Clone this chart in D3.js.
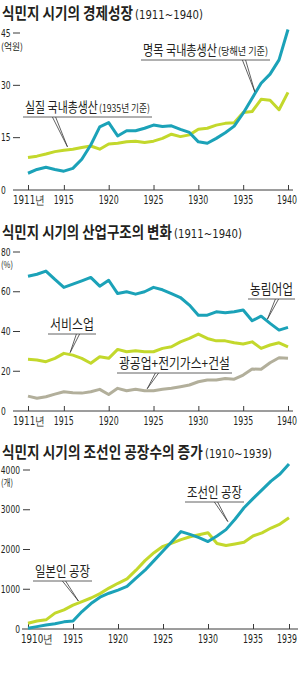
<!DOCTYPE html>
<html>
<head>
<meta charset="utf-8">
<script src="https://cdn.jsdelivr.net/npm/d3@7"></script>
<style>
  body { margin: 0; background: #fff; }
  text { fill: #231f20; }
  .ko { font-family: "Noto Sans CJK KR", sans-serif; }
  .num { font-family: "Liberation Sans Narrow", "DejaVu Sans Condensed", sans-serif; }
</style>
</head>
<body>
<svg id="chart" width="300" height="676"></svg>
<script>
  // chart 1 : 경제성장 (억원)
  var years1 = [1911, 1912, 1913, 1914, 1915, 1916, 1917, 1918, 1919, 1920,
                1921, 1922, 1923, 1924, 1925, 1926, 1927, 1928, 1929, 1930,
                1931, 1932, 1933, 1934, 1935, 1936, 1937, 1938, 1939, 1940];
  var nominalGdp = [4.8, 5.9, 6.5, 5.9, 5.4, 6.2, 8.8, 12.9, 18.1, 19.3,
                    15.5, 17.0, 17.0, 17.7, 18.6, 18.2, 18.4, 17.4, 16.5, 13.8,
                    13.4, 14.8, 16.4, 18.3, 22.0, 26.3, 30.6, 33.2, 37.3, 46.0];
  var realGdp = [9.3, 9.7, 10.3, 11.0, 11.4, 11.7, 12.2, 12.6, 11.7, 13.2,
                 13.4, 13.8, 14.0, 13.6, 14.0, 14.8, 16.0, 15.3, 15.8, 17.4,
                 17.7, 18.6, 19.1, 19.3, 22.2, 22.5, 26.0, 25.7, 23.0, 28.0];
  var ticksX1 = [1911, 1915, 1920, 1925, 1930, 1935, 1940];
  var ticksY1 = [0, 15, 30, 45];

  // chart 2 : 산업구조 (%)
  var years2 = years1;
  var agriShare = [67.8, 68.8, 70.4, 66.2, 62.2, 63.8, 65.5, 67.2, 62.8, 65.8,
                   59.1, 60.0, 58.8, 60.0, 62.2, 61.0, 59.1, 57.1, 53.3, 48.2,
                   48.2, 49.9, 49.4, 49.9, 50.8, 45.4, 47.7, 44.1, 40.7, 42.1];
  var serviceShare = [26.0, 25.7, 24.8, 26.5, 29.0, 28.1, 26.5, 24.0, 27.3, 26.5,
                      31.0, 29.8, 30.3, 29.8, 29.8, 31.5, 32.3, 34.8, 36.5, 38.7,
                      36.5, 35.3, 35.3, 34.3, 33.7, 34.8, 31.5, 33.2, 34.3, 32.3];
  var industryShare = [7.5, 6.4, 7.2, 8.5, 9.7, 9.2, 9.0, 9.7, 10.9, 8.3,
                       11.4, 10.2, 10.9, 10.2, 10.2, 10.9, 11.4, 12.2, 13.1, 14.7,
                       15.6, 15.6, 16.4, 16.0, 18.1, 21.1, 21.0, 24.3, 26.8, 26.5];
  var ticksX2 = ticksX1;
  var ticksY2 = [0, 20, 40, 60, 80];

  // chart 3 : 공장수 (개)
  var years3 = [1910, 1911, 1912, 1913, 1914, 1915, 1916, 1917, 1918, 1919,
                1920, 1921, 1922, 1923, 1924, 1925, 1926, 1927, 1928, 1929,
                1930, 1931, 1932, 1933, 1934, 1935, 1936, 1937, 1938, 1939];
  var koreanFactories = [20, 60, 100, 130, 180, 200, 440, 640, 800, 900,
                         980, 1070, 1280, 1480, 1720, 1960, 2200, 2450, 2380, 2300,
                         2200, 2340, 2500, 2760, 3050, 3280, 3500, 3720, 3900, 4150];
  var japaneseFactories = [143, 200, 230, 400, 480, 600, 690, 780, 890, 1030,
                           1150, 1260, 1480, 1720, 1920, 2080, 2160, 2250, 2320, 2370,
                           2420, 2150, 2100, 2140, 2180, 2340, 2420, 2540, 2640, 2800];
  var ticksX3 = [1910, 1915, 1920, 1925, 1930, 1935, 1939];
  var ticksY3 = [0, 1000, 2000, 3000, 4000];

  var BLUE = "#1ba2b8", GREEN = "#c3d82c", GRAY = "#b2af9b", INK = "#3a3a3a";

  var svg = d3.select("#chart");

  // point on a series at a fractional year (for leader lines)
  function pointAt(years, vals, yr, x, y) {
    var i = d3.bisectRight(years, yr) - 1;
    i = Math.max(0, Math.min(years.length - 2, i));
    var t = (yr - years[i]) / (years[i + 1] - years[i]);
    return [x(yr), y(vals[i] + t * (vals[i + 1] - vals[i]))];
  }

  // squeeze a text horizontally so it takes width w
  function fit(sel, x, y, w, anchor) {
    var tw = sel.node().getComputedTextLength();
    var sx = w / tw;
    var x0 = anchor == "middle" ? x - w / 2 : anchor == "end" ? x - w : x;
    sel.attr("x", 0).attr("y", 0).attr("text-anchor", "start")
      .attr("transform", "translate(" + x0 + "," + y + ") scale(" + sx + ",1)");
    return sel;
  }

  function title(y, main, mainW, sub, subW) {
    fit(svg.append("text").attr("class", "ko")
      .attr("font-size", 16).attr("font-weight", "bold").text(main), 2, y, mainW);
    fit(svg.append("text").attr("class", "num")
      .attr("font-size", 13).text(sub), 4 + mainW, y, subW);
  }

  function drawAxes(cfg) {
    var g = svg.append("g");
    // x axis
    g.append("line")
      .attr("x1", cfg.axisX0).attr("x2", cfg.axisX1)
      .attr("y1", cfg.y(0)).attr("y2", cfg.y(0))
      .attr("stroke", INK).attr("stroke-width", 1);
    var ax = g.append("g")
      .attr("transform", "translate(0," + cfg.y(0) + ")")
      .call(d3.axisBottom(cfg.x).tickValues(cfg.ticksX).tickSize(-5).tickFormat(""));
    ax.select(".domain").remove();
    ax.selectAll("line").attr("stroke", INK);
    var n = cfg.ticksX.length;
    cfg.ticksX.forEach(function(d, i) {
      var t = g.append("text").attr("class", "num").attr("font-size", 12)
        .text(i == 0 ? d + "년" : d);
      if (i == 0) fit(t, cfg.firstLabelX, cfg.y(0) + 14, 32, "start");
      else if (i == n - 1) fit(t, 297, cfg.y(0) + 14, 20, "end");
      else fit(t, cfg.x(d), cfg.y(0) + 14, 20, "middle");
    });

    // y ticks : number + short dash
    cfg.ticksY.forEach(function(v) {
      var yy = cfg.y(v);
      var t = g.append("text").attr("class", "num").attr("font-size", 10.5).text(v);
      var w = String(v).length * 4.8;
      if (cfg.labelAnchor == "end") fit(t, cfg.labelX, yy + 3.5, w, "end");
      else fit(t, cfg.labelX, yy + 3.5, w, "start");
      if (v > 0) {
        g.append("line")
          .attr("x1", cfg.dashX0).attr("x2", cfg.dashX0 + 7)
          .attr("y1", yy).attr("y2", yy)
          .attr("stroke", INK).attr("stroke-width", 1);
      }
    });
    fit(g.append("text").attr("class", "ko").attr("font-size", 9.5).text(cfg.unit),
        1, cfg.unitY, cfg.unitW, "start");
  }

  function drawLine(years, vals, x, y, color) {
    var line = d3.line()
      .x(function(d, i) { return x(years[i]); })
      .y(function(d) { return y(d); });
    svg.append("path")
      .datum(vals)
      .attr("d", line)
      .attr("fill", "none")
      .attr("stroke", color)
      .attr("stroke-width", 3)
      .attr("stroke-linejoin", "round");
  }

  // label with underline and a narrow V leader down to the series
  function callout(c) {
    fit(svg.append("text").attr("class", "ko").attr("font-size", 13.5).text(c.text),
        c.x, c.y, c.w, "start");
    var endX = c.x + c.w;
    if (c.sub) {
      fit(svg.append("text").attr("class", "ko").attr("font-size", 10.5).text(c.sub),
          endX + 1, c.y, c.subW, "start");
      endX += c.subW + 1;
    }
    var uy = c.y + 5;
    svg.append("line")
      .attr("x1", c.x - 2).attr("x2", endX + 2)
      .attr("y1", uy).attr("y2", uy)
      .attr("stroke", INK).attr("stroke-width", 0.8);
    var p = c.anchor;
    svg.append("polyline")
      .attr("points", [[c.leadX - 1.6, uy], [p[0], p[1] - c.gap], [c.leadX + 1.6, uy]].join(" "))
      .attr("fill", "none")
      .attr("stroke", INK).attr("stroke-width", 0.8);
  }

  // ---------- chart 1 ----------
  var x1 = d3.scaleLinear().domain([1911, 1940]).range([28, 288]);
  var y1 = d3.scaleLinear().domain([0, 45]).range([190, 33]);
  title(19, "식민지 시기의 경제성장", 131, "(1911~1940)", 68);
  drawAxes({x: x1, y: y1, ticksX: ticksX1, ticksY: ticksY1, axisX0: 13, axisX1: 293,
            firstLabelX: 13, labelX: 1, labelAnchor: "start", dashX0: 13,
            unit: "(억원)", unitW: 22, unitY: 50});
  drawLine(years1, realGdp, x1, y1, GREEN);
  drawLine(years1, nominalGdp, x1, y1, BLUE);
  callout({text: "명목 국내총생산", sub: "(당해년 기준)", x: 143, y: 55, w: 74, subW: 50,
           leadX: 244, anchor: pointAt(years1, nominalGdp, 1936.3, x1, y1), gap: 2});
  callout({text: "실질 국내총생산", sub: "(1935년 기준)", x: 25, y: 112, w: 73, subW: 51,
           leadX: 54, anchor: pointAt(years1, realGdp, 1915.4, x1, y1), gap: 3});

  // ---------- chart 2 ----------
  var x2 = d3.scaleLinear().domain([1911, 1940]).range([28, 288]);
  var y2 = d3.scaleLinear().domain([0, 80]).range([411, 252]);
  title(238, "식민지 시기의 산업구조의 변화", 170, "(1911~1940)", 68);
  drawAxes({x: x2, y: y2, ticksX: ticksX2, ticksY: ticksY2, axisX0: 13, axisX1: 293,
            firstLabelX: 13, labelX: 1, labelAnchor: "start", dashX0: 13,
            unit: "(%)", unitW: 12, unitY: 268});
  drawLine(years2, industryShare, x2, y2, GRAY);
  drawLine(years2, serviceShare, x2, y2, GREEN);
  drawLine(years2, agriShare, x2, y2, BLUE);
  callout({text: "농림어업", x: 250, y: 294, w: 43,
           leadX: 277, anchor: pointAt(years2, agriShare, 1937.7, x2, y2), gap: 2});
  callout({text: "서비스업", x: 50, y: 329, w: 44,
           leadX: 78, anchor: pointAt(years2, serviceShare, 1915.7, x2, y2), gap: 2});
  callout({text: "광공업+전기가스+건설", x: 119, y: 368, w: 111,
           leadX: 157, anchor: pointAt(years2, industryShare, 1924.3, x2, y2), gap: 2});

  // ---------- chart 3 ----------
  var x3 = d3.scaleLinear().domain([1910, 1939]).range([28, 289]);
  var y3 = d3.scaleLinear().domain([0, 4000]).range([629, 470]);
  title(458, "식민지 시기의 조선인 공장수의 증가", 201, "(1910~1939)", 67);
  drawAxes({x: x3, y: y3, ticksX: ticksX3, ticksY: ticksY3, axisX0: 22, axisX1: 298,
            firstLabelX: 21, labelX: 20, labelAnchor: "end", dashX0: 23,
            unit: "(개)", unitW: 12, unitY: 486});
  drawLine(years3, japaneseFactories, x3, y3, GREEN);
  drawLine(years3, koreanFactories, x3, y3, BLUE);
  callout({text: "조선인 공장", x: 187, y: 497, w: 55,
           leadX: 216, anchor: pointAt(years3, koreanFactories, 1932.2, x3, y3), gap: 6});
  callout({text: "일본인 공장", x: 35, y: 576, w: 55,
           leadX: 64, anchor: pointAt(years3, japaneseFactories, 1915.6, x3, y3), gap: 2});
</script>
</body>
</html>
